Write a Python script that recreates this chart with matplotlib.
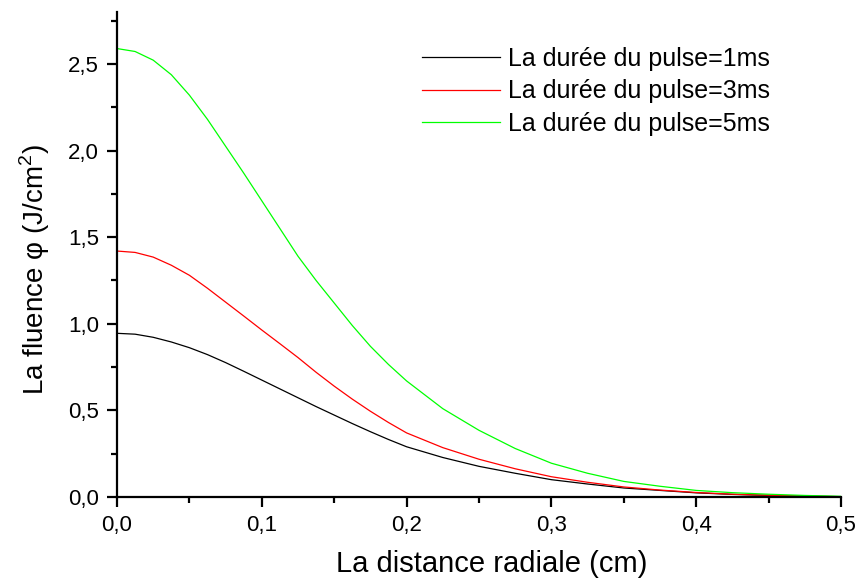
import matplotlib
matplotlib.use("Agg")
import matplotlib.pyplot as plt
from matplotlib.ticker import MultipleLocator

plt.rcParams['font.family'] = ['Liberation Sans', 'DejaVu Sans']
plt.rcParams['mathtext.fontset'] = 'custom'
plt.rcParams['mathtext.rm'] = 'Liberation Sans'

# radial distance (cm)
distance = [0.0, 0.0125, 0.025, 0.0375, 0.05, 0.0625, 0.075, 0.0875, 0.1, 0.1125,
            0.125, 0.1375, 0.15, 0.1625, 0.175, 0.1875, 0.2, 0.225, 0.25, 0.275,
            0.3, 0.325, 0.35, 0.375, 0.4, 0.425, 0.45, 0.475, 0.5]

# fluence (J/cm2) for each pulse duration
fluence_1ms = [0.945, 0.940, 0.922, 0.895, 0.862, 0.822, 0.776, 0.726, 0.675, 0.624,
               0.573, 0.522, 0.473, 0.424, 0.377, 0.332, 0.290, 0.228, 0.177, 0.137,
               0.100, 0.075, 0.052, 0.038, 0.024, 0.015, 0.009, 0.004, 0.002]
fluence_3ms = [1.420, 1.412, 1.385, 1.338, 1.280, 1.205, 1.125, 1.045, 0.964, 0.885,
               0.805, 0.720, 0.640, 0.565, 0.495, 0.430, 0.370, 0.285, 0.218, 0.163,
               0.117, 0.085, 0.058, 0.040, 0.026, 0.016, 0.010, 0.005, 0.002]
fluence_5ms = [2.589, 2.572, 2.522, 2.438, 2.320, 2.180, 2.025, 1.870, 1.710, 1.550,
               1.390, 1.250, 1.120, 0.990, 0.870, 0.765, 0.670, 0.510, 0.385, 0.280,
               0.195, 0.137, 0.090, 0.062, 0.038, 0.025, 0.016, 0.009, 0.004]

labels = ['La durée du pulse=1ms', 'La durée du pulse=3ms', 'La durée du pulse=5ms']
colors = ['black', '#ff0000', '#00ff00']

x_ticks = [0.0, 0.1, 0.2, 0.3, 0.4, 0.5]
x_tick_labels = ['0,0', '0,1', '0,2', '0,3', '0,4', '0,5']
y_ticks = [0.0, 0.5, 1.0, 1.5, 2.0, 2.5]
y_tick_labels = ['0,0', '0,5', '1,0', '1,5', '2,0', '2,5']

fig = plt.figure(figsize=(8.6, 5.8), dpi=100)
ax = fig.add_axes([117 / 860, 83 / 580, 724 / 860, 485 / 580])

for y, lab, c in zip([fluence_1ms, fluence_3ms, fluence_5ms], labels, colors):
    ax.plot(distance, y, color=c, linewidth=0.9, label=lab)

ax.set_xlim(0, 0.5)
ax.set_ylim(0, 2.8)
ax.set_xticks(x_ticks)
ax.set_xticklabels(x_tick_labels)
ax.set_yticks(y_ticks)
ax.set_yticklabels(y_tick_labels)
ax.xaxis.set_minor_locator(MultipleLocator(0.05))
ax.yaxis.set_minor_locator(MultipleLocator(0.25))

for side in ['top', 'right']:
    ax.spines[side].set_visible(False)
for side in ['left', 'bottom']:
    ax.spines[side].set_linewidth(1.6)

ax.tick_params(which='major', direction='out', length=7, width=1.6, labelsize=16, pad=6)
ax.tick_params(which='minor', direction='out', length=4.5, width=1.6)

ax.set_xlabel('La distance radiale (cm)', fontsize=21)
ax.set_ylabel('La fluence φ (J/cm$^2$)', fontsize=20)
ax.xaxis.set_label_coords(0.518, -0.11)
ax.yaxis.set_label_coords(-0.09, 0.468)

ax.legend(loc='upper left', bbox_to_anchor=(422 / 860, 1 - 47 / 580), bbox_transform=fig.transFigure,
          frameon=False, fontsize=18, borderpad=0, borderaxespad=0,
          handlelength=3.1, handletextpad=0.36, labelspacing=0.33)

fig.savefig('out.png', dpi=100)
